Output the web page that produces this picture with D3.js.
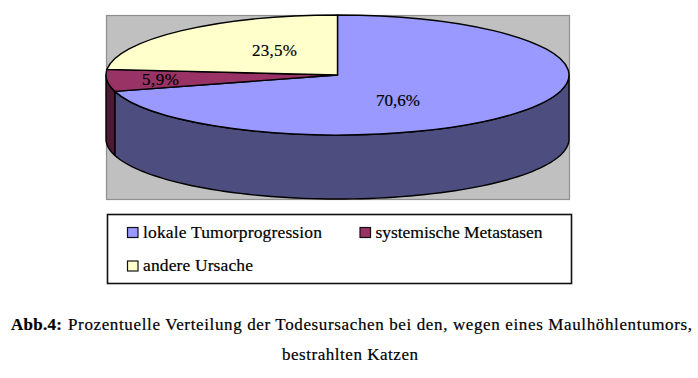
<!DOCTYPE html>
<html><head><meta charset="utf-8">
<script src="https://cdnjs.cloudflare.com/ajax/libs/d3/7.8.5/d3.min.js"></script>
<style>html,body{margin:0;padding:0;background:#fff}svg{display:block}text{font-family:"Liberation Serif",serif;fill:#000;stroke:#000;stroke-width:.2}</style>
</head><body><svg id="c" width="698" height="378"></svg>
<script>
const categories = ["lokale Tumorprogression","systemische Metastasen","andere Ursache"];
const values = [70.6,5.9,23.5];
const valueLabels = ["70,6%","5,9%","23,5%"];
const topColors = ["#9999FF","#993366","#FFFFCC"];
const sideColors = ["#4D4D80","#4D1A33","#808066"];
const captionBold = "Abb.4:";
const captionLine1 = "Prozentuelle Verteilung der Todesursachen bei den, wegen eines Maulhöhlentumors,";
const captionLine2 = "bestrahlten Katzen";

const svg = d3.select("#c");
const cx=337.5, cy=75, rx=231.5, ry=60, depth=64;
svg.append("rect").attr("x",106.5).attr("y",15.5).attr("width",463).attr("height",184)
  .attr("fill","#C0C0C0").attr("stroke","#909090").attr("stroke-width",1.2);

const slices = d3.pie().sort(null).value(d=>d)(values);
const px = a=>cx+rx*Math.sin(a), py=a=>cy-ry*Math.cos(a);
const line = d3.line().x(d=>d[0]).y(d=>d[1]);
const g = svg.append("g");
slices.forEach((s,i)=>{
  const a0=Math.max(s.startAngle,Math.PI/2), a1=Math.min(s.endAngle,3*Math.PI/2);
  if(a1<=a0) return;
  const n=80, as=d3.range(n+1).map(k=>a0+(a1-a0)*k/n);
  const top=as.map(a=>[px(a),py(a)]), bot=as.map(a=>[px(a),py(a)+depth]).reverse();
  g.append("path").attr("d",line(top.concat(bot))+"Z")
   .attr("fill",sideColors[i]).attr("stroke","#000").attr("stroke-width",1.4).attr("stroke-linejoin","round");
});
const arc=d3.arc().innerRadius(0).outerRadius(rx);
g.selectAll("path.top").data(slices).join("path").attr("class","top")
 .attr("d",arc).attr("transform",`translate(${cx},${cy}) scale(1,${ry/rx})`)
 .attr("fill",(d,i)=>topColors[i]).attr("stroke","#000").attr("stroke-width",1.4)
 .attr("vector-effect","non-scaling-stroke").attr("stroke-linejoin","round");
const labelBox=[[376,106,44],[142,85,37],[252,56,45]];
svg.selectAll("text.v").data(valueLabels).join("text").attr("class","v")
 .attr("x",(d,i)=>labelBox[i][0]).attr("y",(d,i)=>labelBox[i][1])
 .attr("textLength",(d,i)=>labelBox[i][2]).attr("lengthAdjust","spacing")
 .attr("font-size",17).text(d=>d);
svg.append("rect").attr("x",107.5).attr("y",214.5).attr("width",464).attr("height",69)
 .attr("fill","#fff").attr("stroke","#111").attr("stroke-width",1.6);
const legPos=[[127,227,179],[359.5,227,167],[127,260.5,110]];
const lg=svg.selectAll("g.l").data(categories).join("g").attr("class","l")
 .attr("transform",(d,i)=>`translate(${legPos[i][0]},${legPos[i][1]})`);
lg.append("rect").attr("x",.5).attr("y",.5).attr("width",10.5).attr("height",10)
 .attr("fill",(d,i)=>topColors[i]).attr("stroke","#111").attr("stroke-width",1.2);
lg.append("text").attr("x",16).attr("y",10.5).attr("font-size",17.5)
 .attr("textLength",(d,i)=>legPos[i][2]).attr("lengthAdjust","spacing").text(d=>d);
svg.append("text").attr("x",11).attr("y",330).attr("font-size",17).attr("font-weight","bold")
 .attr("textLength",51).attr("lengthAdjust","spacing").text(captionBold);
svg.append("text").attr("x",68).attr("y",330).attr("font-size",17)
 .attr("textLength",624).attr("lengthAdjust","spacing").text(captionLine1);
svg.append("text").attr("x",282).attr("y",360).attr("font-size",17)
 .attr("textLength",136).attr("lengthAdjust","spacing").text(captionLine2);
</script>
</body></html>
